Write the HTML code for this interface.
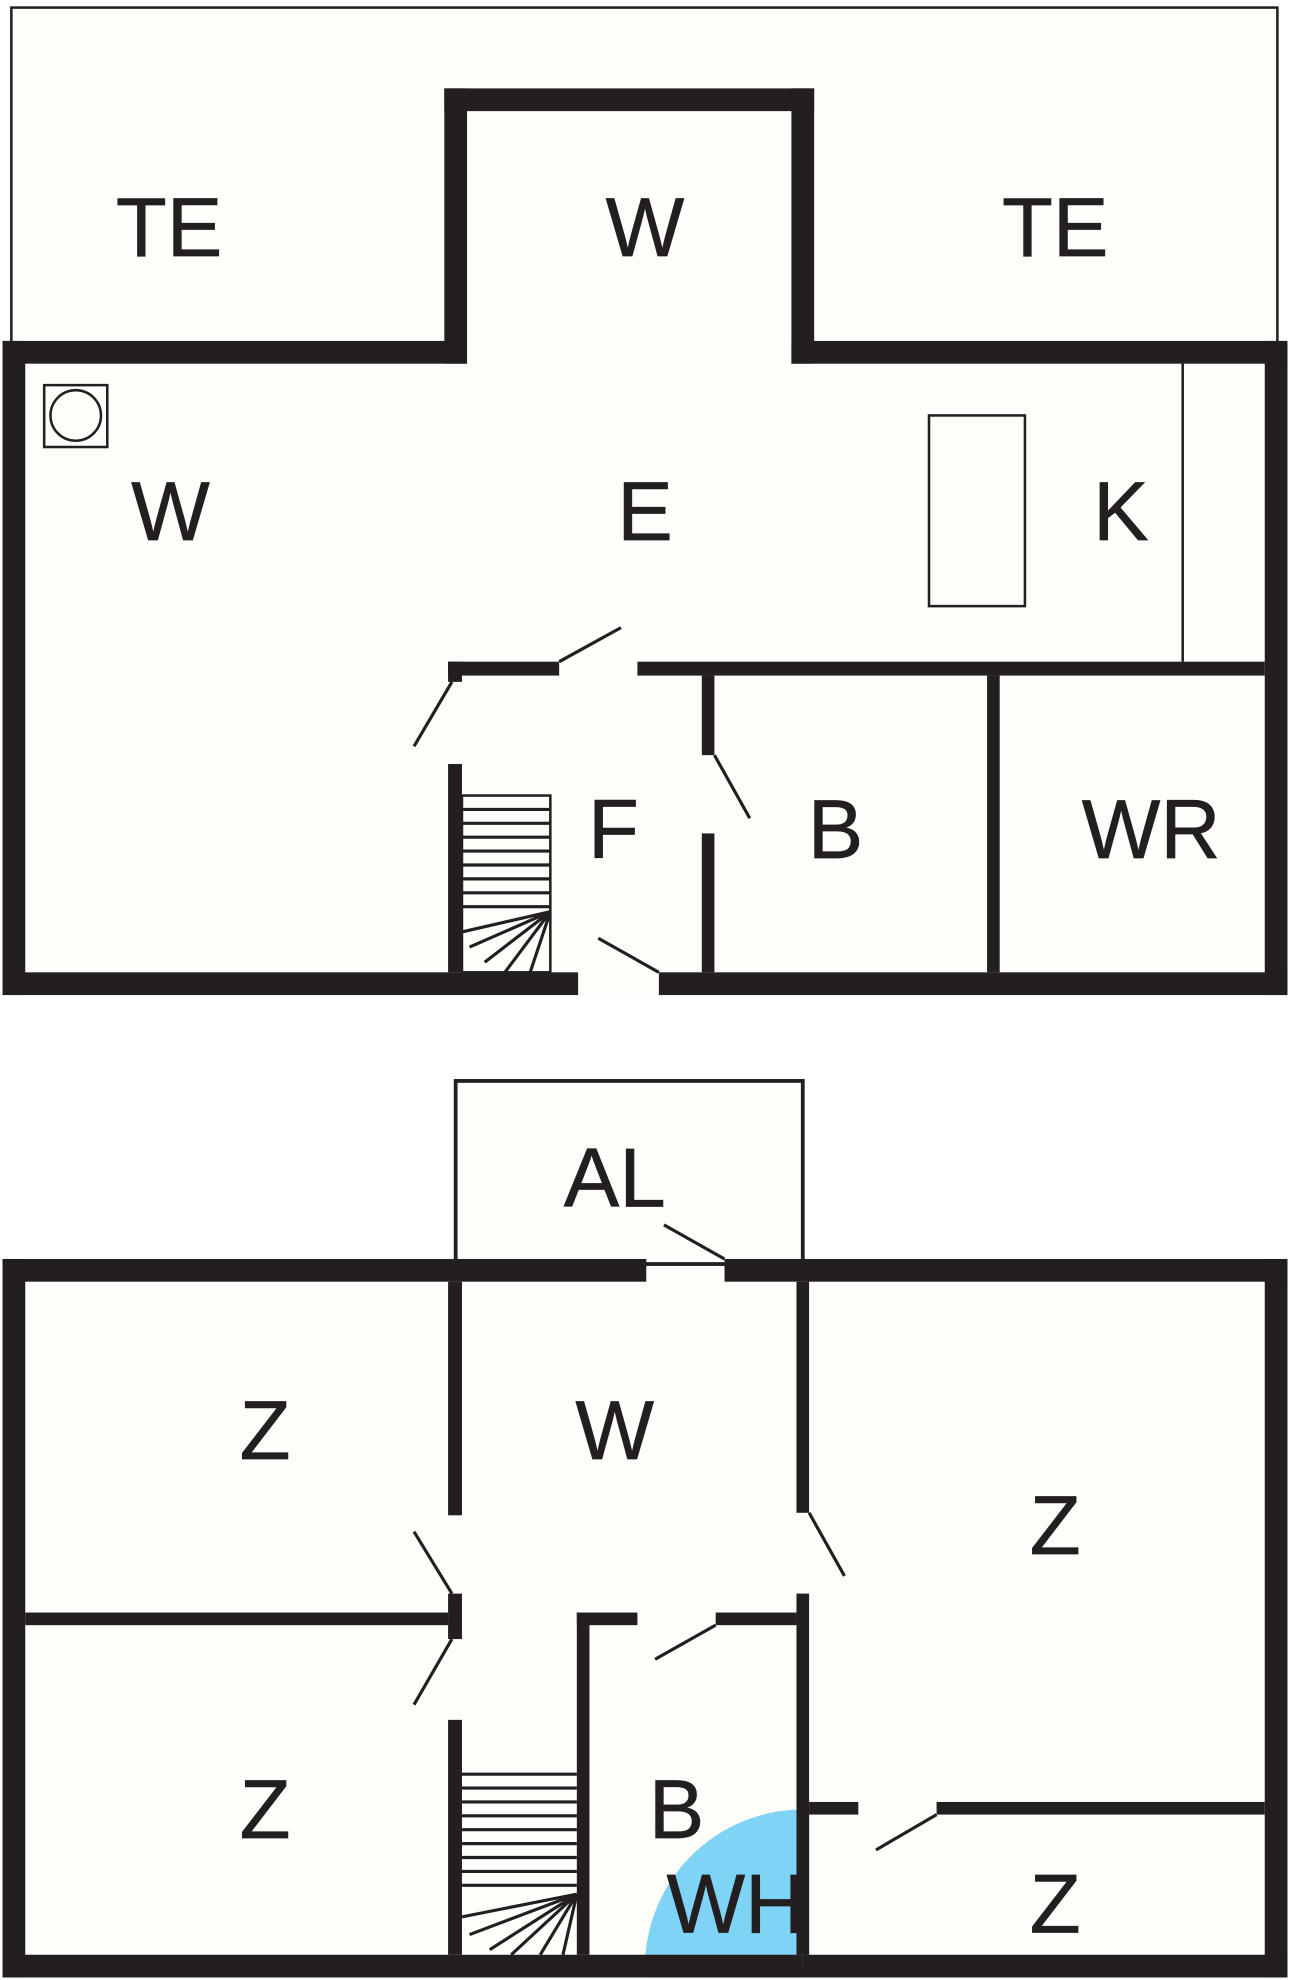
<!DOCTYPE html>
<html><head><meta charset="utf-8"><style>
html,body{margin:0;padding:0;background:#fff;}
svg{display:block;}
text{font-family:"Liberation Sans",sans-serif;font-size:66px;fill:#231f20;stroke:#231f20;stroke-width:0.5;text-anchor:middle;dominant-baseline:central;}
</style></head><body>
<svg width="1290" height="1980" viewBox="0 0 1022 1568" preserveAspectRatio="none" xmlns="http://www.w3.org/2000/svg">
<rect width="1022" height="1568" fill="#fff"/>
<rect x="9" y="6" width="1003" height="270" fill="#fdfdf9" stroke="#231f20" stroke-width="2"/>
<g fill="#fdfdf9">
<rect x="10" y="270" width="1010" height="518"/>
<rect x="370" y="88" width="257" height="200"/>
<rect x="360" y="855" width="277" height="150"/>
<rect x="2" y="997" width="1018" height="569"/>
</g>
<g fill="none" stroke="#231f20" stroke-width="2">
<line x1="937" y1="288" x2="937" y2="524"/>
<rect x="736" y="329" width="76" height="151"/>
<rect x="35" y="305" width="50" height="49"/>
<circle cx="60" cy="329" r="20"/>
</g>
<rect x="361" y="856" width="275" height="145" fill="#fdfdf9" stroke="#231f20" stroke-width="3"/>
<g fill="#231f20">
<rect x="352" y="70" width="293" height="18"/>
<rect x="352" y="70" width="18" height="218"/>
<rect x="627" y="70" width="18" height="218"/>
<rect x="2" y="270" width="368" height="18"/>
<rect x="627" y="270" width="393" height="18"/>
<rect x="2" y="270" width="18" height="518"/>
<rect x="1002" y="270" width="18" height="518"/>
<rect x="2" y="770" width="456" height="18"/>
<rect x="522" y="770" width="498" height="18"/>
<rect x="355" y="524" width="88" height="11"/>
<rect x="505" y="524" width="497" height="11"/>
<rect x="355" y="524" width="11" height="16"/>
<rect x="355" y="605" width="11" height="165"/>
<rect x="556" y="535" width="10" height="63"/>
<rect x="556" y="660" width="10" height="110"/>
<rect x="782" y="535" width="10" height="235"/>
<rect x="2" y="997" width="510" height="18"/>
<rect x="574" y="997" width="446" height="18"/>
<rect x="2" y="997" width="18" height="569"/>
<rect x="1002" y="997" width="18" height="569"/>
<rect x="2" y="1548" width="1018" height="18"/>
<rect x="355" y="1015" width="11" height="185"/>
<rect x="355" y="1262" width="11" height="36"/>
<rect x="355" y="1362" width="11" height="186"/>
<rect x="20" y="1277" width="335" height="10"/>
<rect x="631" y="1015" width="10" height="183"/>
<rect x="631" y="1262" width="10" height="286"/>
<rect x="457" y="1277" width="10" height="271"/>
<rect x="457" y="1277" width="48" height="10"/>
<rect x="567" y="1277" width="64" height="10"/>
<rect x="641" y="1427" width="39" height="10"/>
<rect x="742" y="1427" width="260" height="10"/>
</g>
<path d="M636 1433 A125 125 0 0 0 511 1558 L636 1558 Z" fill="#7fd3f5"/>
<rect x="631" y="1433" width="10" height="115" fill="#231f20"/>
<rect x="511" y="1548" width="125" height="18" fill="#231f20"/>
<g stroke="#231f20" stroke-width="2.5" fill="none">
<line x1="443" y1="524" x2="492" y2="497"/>
<line x1="358" y1="540" x2="328" y2="591"/>
<line x1="566" y1="598" x2="594" y2="648"/>
<line x1="522" y1="770" x2="474" y2="743"/>
<line x1="574" y1="997" x2="526" y2="970"/>
<line x1="358" y1="1262" x2="328" y2="1213"/>
<line x1="358" y1="1298" x2="328" y2="1350"/>
<line x1="641" y1="1198" x2="669" y2="1248"/>
<line x1="567" y1="1287" x2="519" y2="1314"/>
<line x1="742" y1="1437" x2="694" y2="1465"/>
<rect x="366" y="630" width="70" height="140" stroke-width="2"/>
<path d="M366 641H436M366 652H436M366 663H436M366 674H436M366 685H436M366 696H436M366 707H436M366 718H436"/>
<path d="M436 722L366 738M436 722L372 750M436 722L384 762M436 722L400 770M436 722L420 770"/>
<path d="M366 1405H457M366 1416H457M366 1427H457M366 1438H457M366 1449H457M366 1460H457M366 1471H457M366 1482H457M366 1493H457"/>
<path d="M457 1500L366 1518M457 1500L372 1532M457 1500L388 1544M457 1500L405 1548M457 1500L428 1548M457 1500L446 1548"/>
</g>
<text x="134" y="180">TE</text>
<text x="511" y="180">W</text>
<text x="836" y="180">TE</text>
<text x="135" y="405">W</text>
<text x="511" y="405">E</text>
<text x="888" y="405">K</text>
<text x="486" y="657">F</text>
<text x="662" y="657">B</text>
<text x="912" y="657">WR</text>
<text x="487" y="933">AL</text>
<text x="210" y="1133">Z</text>
<text x="487" y="1133">W</text>
<text x="836" y="1208">Z</text>
<text x="210" y="1433">Z</text>
<text x="536" y="1433">B</text>
<text x="583" y="1508">WH</text>
<text x="836" y="1508">Z</text>
</svg>
</body></html>
